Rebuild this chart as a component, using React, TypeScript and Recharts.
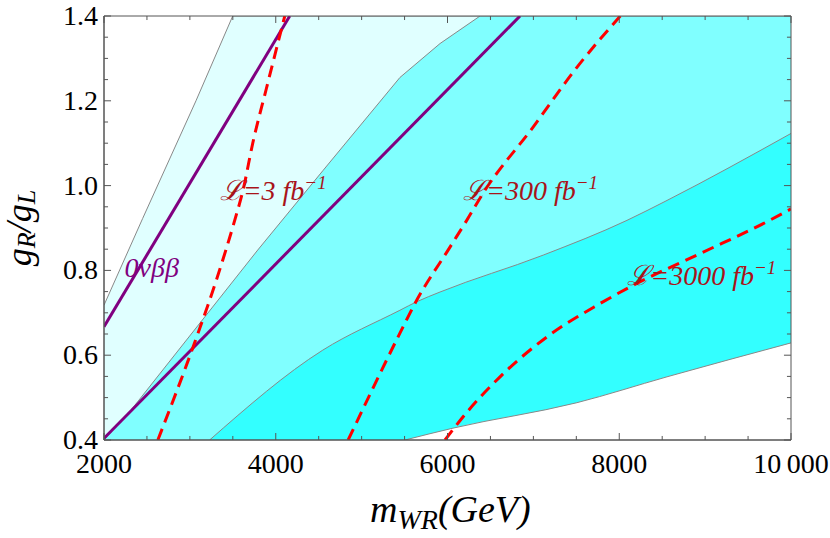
import { ComposedChart, Area, Line, XAxis, YAxis, ReferenceDot, ReferenceLine } from 'recharts';

// band edges: m = m_WR in GeV, g = g_R/g_L
const edgeLight = [
  { m: 2000, g: 0.718 },
  { m: 2449, g: 0.922 },
  { m: 3071, g: 1.2 },
  { m: 3499, g: 1.4 },
  { m: 10000, g: 1.4 },
];
const edgeMid = [
  { m: 2000, g: 0.4 },
  { m: 2297, g: 0.466 },
  { m: 3790, g: 0.848 },
  { m: 4548, g: 1.035 },
  { m: 5446, g: 1.255 },
  { m: 5913, g: 1.335 },
  { m: 6379, g: 1.4 },
  { m: 10000, g: 1.4 },
];
const edgeDark = [
  { m: 3230, g: 0.4 },
  { m: 4548, g: 0.612 },
  { m: 5446, g: 0.706 },
  { m: 5641, g: 0.726 },
  { m: 5913, g: 0.749 },
  { m: 7114, g: 0.836 },
  { m: 8090, g: 0.918 },
  { m: 8556, g: 0.965 },
  { m: 10000, g: 1.123 },
];
const edgeOuter = [
  { m: 5504, g: 0.4 },
  { m: 6064, g: 0.428 },
  { m: 7507, g: 0.488 },
  { m: 8556, g: 0.549 },
  { m: 10000, g: 0.629 },
];

// 0vbb limits
const nbbUpper = [
  { m: 2000, g: 0.667 },
  { m: 4163, g: 1.4 },
];
const nbbLower = [
  { m: 2000, g: 0.404 },
  { m: 6845, g: 1.4 },
];

// luminosity reach
const lumi3 = [
  { m: 2627, g: 0.4 },
  { m: 3067, g: 0.636 },
  { m: 3308, g: 0.777 },
  { m: 3522, g: 0.918 },
  { m: 3619, g: 0.989 },
  { m: 3732, g: 1.1 },
  { m: 3891, g: 1.229 },
  { m: 4105, g: 1.4 },
];
const lumi300 = [
  { m: 4843, g: 0.4 },
  { m: 5446, g: 0.652 },
  { m: 5621, g: 0.722 },
  { m: 6029, g: 0.855 },
  { m: 6224, g: 0.918 },
  { m: 6414, g: 0.982 },
  { m: 6997, g: 1.138 },
  { m: 7507, g: 1.279 },
  { m: 8012, g: 1.4 },
];
const lumi3000 = [
  { m: 5971, g: 0.4 },
  { m: 6224, g: 0.465 },
  { m: 6612, g: 0.549 },
  { m: 7157, g: 0.643 },
  { m: 7778, g: 0.722 },
  { m: 8163, g: 0.765 },
  { m: 8945, g: 0.84 },
  { m: 9722, g: 0.915 },
  { m: 10000, g: 0.945 },
];

const xTicks = [2000, 2500, 3000, 3500, 4000, 4500, 5000, 5500, 6000, 6500, 7000, 7500, 8000, 8500, 9000, 9500, 10000];
const xLabels: Record<number, string> = { 2000: '2000', 4000: '4000', 6000: '6000', 8000: '8000', 10000: '10\u2009000' };
const yTicks = [0.4, 0.45, 0.5, 0.55, 0.6, 0.65, 0.7, 0.75, 0.8, 0.85, 0.9, 0.95, 1.0, 1.05, 1.1, 1.15, 1.2, 1.25, 1.3, 1.35, 1.4];
const yLabels = [0.4, 0.6, 0.8, 1.0, 1.2, 1.4];

const X_MIN = 2000;
const X_MAX = 10000;
const Y_MIN = 0.4;
const Y_MAX = 1.4;

// inner tick lengths in data units (≈7px major, 4px minor)
const X_TICK_LEN = { major: 0.0165, minor: 0.0095 };
const Y_TICK_LEN = { major: 82, minor: 47 };

const SERIF = 'Liberation Serif, Times New Roman, DejaVu Serif, serif';
const FRAME = '#555';
const LUMI_TEXT = '#a8141a';

const isMajorX = (v: number) => v % 2000 === 0;
const isMajorY = (v: number) => yLabels.some((l) => Math.abs(l - v) < 1e-6);

function BottomTick({ x, y, payload }: any) {
  const v = payload.value;
  if (!isMajorX(v)) return null;
  return (
    <text x={x} y={y + 33} textAnchor="middle" fontFamily={SERIF} fontSize={28} fill="#000">
      {xLabels[v]}
    </text>
  );
}

function LeftTick({ x, y, payload }: any) {
  const v = payload.value;
  if (!isMajorY(v)) return null;
  return (
    <text x={x - 6} y={y + 9} textAnchor="end" fontFamily={SERIF} fontSize={28} fill="#000">
      {v.toFixed(1)}
    </text>
  );
}

const lumiLabel = (num: string) => (props: any) => {
  const { x, y } = props.viewBox;
  return (
    <text x={x} y={y} fontFamily={SERIF} fontStyle="italic" fontSize={28} fill={LUMI_TEXT}>
      <tspan>{'\u2112=' + num + ' fb'}</tspan>
      <tspan dy={-11} fontSize={19}>{'\u22121'}</tspan>
    </text>
  );
};

const nbbLabel = (props: any) => {
  const { x, y } = props.viewBox;
  return (
    <text x={x} y={y} fontFamily={SERIF} fontStyle="italic" fontSize={28} fill="#800080">
      0νββ
    </text>
  );
};

export default function App() {
  return (
    <div style={{ position: 'absolute', left: 0, top: 0, background: '#fff' }}>
      <ComposedChart width={830} height={538} margin={{ top: 16, right: 39, bottom: 0, left: 0 }}>
        <XAxis
          dataKey="m"
          type="number"
          domain={[X_MIN, X_MAX]}
          allowDataOverflow
          ticks={xTicks}
          interval={0}
          height={98}
          tickSize={0}
          tickMargin={0}
          tickLine={false}
          tick={<BottomTick />}
          axisLine={{ stroke: FRAME }}
          label={() => (
            <text x={370} y={522} fontFamily={SERIF} fontStyle="italic" fontSize={38} fill="#000">
              <tspan>m</tspan>
              <tspan dy={7} fontSize={28}>WR</tspan>
              <tspan dy={-7}>(GeV)</tspan>
            </text>
          )}
        />
        <YAxis
          type="number"
          domain={[Y_MIN, Y_MAX]}
          allowDataOverflow
          ticks={yTicks}
          interval={0}
          width={104}
          tickSize={0}
          tickMargin={0}
          tickLine={false}
          tick={<LeftTick />}
          axisLine={{ stroke: FRAME }}
          label={() => (
            <text
              transform="translate(31, 228) rotate(-90)"
              textAnchor="middle"
              fontFamily={SERIF}
              fontStyle="italic"
              fontSize={36}
              fill="#000"
            >
              <tspan>g</tspan>
              <tspan dy={4} fontSize={26}>R</tspan>
              <tspan dy={-4}>/g</tspan>
              <tspan dy={4} fontSize={26}>L</tspan>
            </text>
          )}
        />

        <Area data={edgeLight} dataKey="g" type="linear" baseValue="dataMin" fill="#e0ffff" fillOpacity={1} stroke="#888" strokeWidth={1} isAnimationActive={false} />
        <Area data={edgeMid} dataKey="g" type="linear" baseValue="dataMin" fill="#80ffff" fillOpacity={1} stroke="#888" strokeWidth={1} isAnimationActive={false} />
        <Area data={edgeDark} dataKey="g" type="monotone" baseValue="dataMin" fill="#33ffff" fillOpacity={1} stroke="#888" strokeWidth={1} isAnimationActive={false} />
        <Area data={edgeOuter} dataKey="g" type="monotone" baseValue="dataMin" fill="#ffffff" fillOpacity={1} stroke="#888" strokeWidth={1} isAnimationActive={false} />

        <Line data={nbbUpper} dataKey="g" type="linear" stroke="#800080" strokeWidth={3} dot={false} isAnimationActive={false} />
        <Line data={nbbLower} dataKey="g" type="linear" stroke="#800080" strokeWidth={3} dot={false} isAnimationActive={false} />

        <Line data={lumi3} dataKey="g" type="monotone" stroke="#ff0000" strokeWidth={3} strokeDasharray="12 7" dot={false} isAnimationActive={false} />
        <Line data={lumi300} dataKey="g" type="monotone" stroke="#ff0000" strokeWidth={3} strokeDasharray="12 7" dot={false} isAnimationActive={false} />
        <Line data={lumi3000} dataKey="g" type="monotone" stroke="#ff0000" strokeWidth={3} strokeDasharray="12 7" dot={false} isAnimationActive={false} />

        {/* frame */}
        <ReferenceLine y={Y_MAX} stroke={FRAME} strokeWidth={1} />
        <ReferenceLine x={X_MAX} stroke={FRAME} strokeWidth={1} />
        <ReferenceLine y={Y_MIN} stroke={FRAME} strokeWidth={1} />
        <ReferenceLine x={X_MIN} stroke={FRAME} strokeWidth={1} />

        {/* inner ticks, bottom and top */}
        {xTicks.map((v) => {
          const len = isMajorX(v) ? X_TICK_LEN.major : X_TICK_LEN.minor;
          return [
            <ReferenceLine key={`xb${v}`} segment={[{ x: v, y: Y_MIN }, { x: v, y: Y_MIN + len }]} stroke={FRAME} />,
            <ReferenceLine key={`xt${v}`} segment={[{ x: v, y: Y_MAX }, { x: v, y: Y_MAX - len }]} stroke={FRAME} />,
          ];
        })}
        {/* inner ticks, left and right */}
        {yTicks.map((v) => {
          const len = isMajorY(v) ? Y_TICK_LEN.major : Y_TICK_LEN.minor;
          return [
            <ReferenceLine key={`yl${v}`} segment={[{ x: X_MIN, y: v }, { x: X_MIN + len, y: v }]} stroke={FRAME} />,
            <ReferenceLine key={`yr${v}`} segment={[{ x: X_MAX, y: v }, { x: X_MAX - len, y: v }]} stroke={FRAME} />,
          ];
        })}

        <ReferenceDot x={2239} y={0.784} r={0} fill="none" stroke="none" label={nbbLabel} />
        <ReferenceDot x={3347} y={0.965} r={0} fill="none" stroke="none" label={lumiLabel('3')} />
        <ReferenceDot x={6181} y={0.965} r={0} fill="none" stroke="none" label={lumiLabel('300')} />
        <ReferenceDot x={8093} y={0.765} r={0} fill="none" stroke="none" label={lumiLabel('3000')} />
      </ComposedChart>
    </div>
  );
}
